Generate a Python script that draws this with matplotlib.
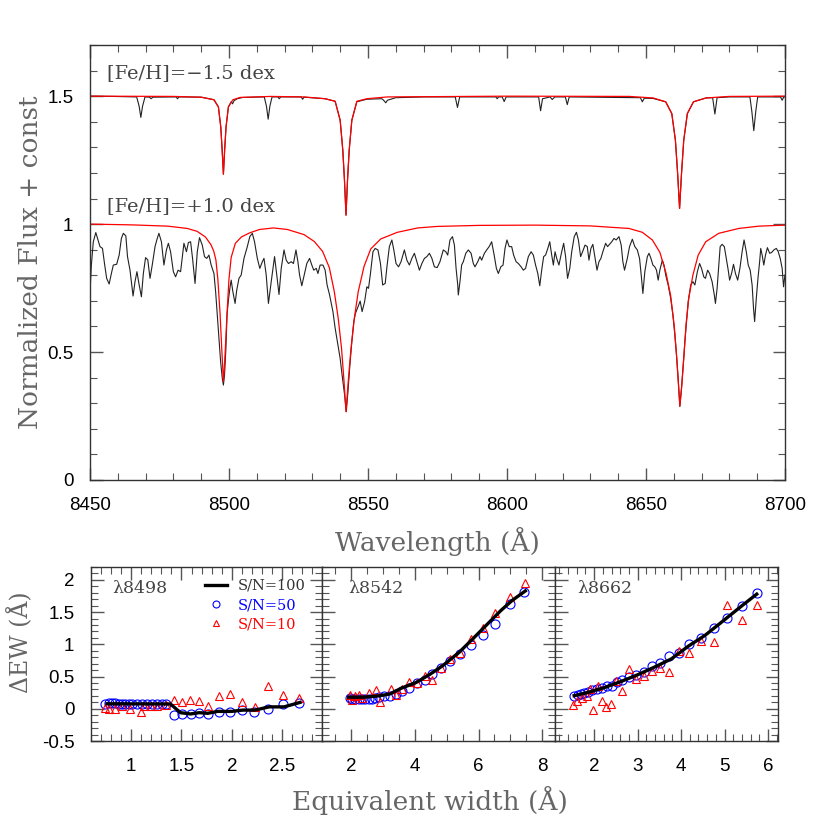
import numpy as np
import matplotlib.pyplot as plt
from matplotlib.lines import Line2D
from matplotlib.ticker import MultipleLocator, FormatStrFormatter

plt.rcParams['font.family'] = ['Liberation Sans', 'DejaVu Sans']
plt.rcParams['axes.unicode_minus'] = False

# ---------------- top panel: spectra (wavelength, flux) ----------------
poor_obs = [
    (8450.0, 1.500), (8458.0, 1.499), (8466.8, 1.497), (8467.7, 1.46), (8468.3, 1.417), (8468.9, 1.46),
    (8469.8, 1.497), (8471.4, 1.496), (8472.0, 1.490), (8472.6, 1.496), (8481.0, 1.497), (8481.5, 1.490),
    (8482.0, 1.497), (8490.0, 1.496), (8494.6, 1.486), (8496.2, 1.458), (8497.05, 1.38), (8497.55, 1.29),
    (8498.0, 1.195), (8498.45, 1.29), (8498.95, 1.38), (8499.8, 1.458), (8500.8, 1.478), (8501.3, 1.470),
    (8501.8, 1.482), (8503.0, 1.490), (8505.0, 1.495), (8512.7, 1.497), (8513.5, 1.46), (8514.1, 1.410),
    (8514.7, 1.46), (8515.5, 1.497), (8517.6, 1.497), (8518.1, 1.490), (8518.6, 1.497), (8526.0, 1.497),
    (8526.5, 1.488), (8527.0, 1.496), (8534.6, 1.490), (8538.2, 1.480), (8540.0, 1.406), (8540.95, 1.289),
    (8541.55, 1.172), (8542.1, 1.035), (8542.65, 1.172), (8543.25, 1.289), (8544.2, 1.406), (8546.0, 1.478),
    (8549.6, 1.488), (8555.0, 1.490), (8555.8, 1.482), (8556.4, 1.474), (8557.0, 1.484), (8560.0, 1.494),
    (8570.0, 1.497), (8581.4, 1.497), (8582.2, 1.456), (8583.0, 1.497), (8596.0, 1.497), (8596.5, 1.490),
    (8597.0, 1.497), (8598.3, 1.497), (8599.0, 1.479), (8599.7, 1.497), (8611.4, 1.497), (8612.1, 1.443),
    (8612.8, 1.490), (8615.5, 1.497), (8616.3, 1.487), (8617.2, 1.497), (8621.0, 1.497), (8621.7, 1.467),
    (8622.4, 1.497), (8648.0, 1.494), (8648.7, 1.478), (8649.4, 1.492), (8652.6, 1.491), (8657.1, 1.478),
    (8659.3, 1.432), (8660.6, 1.328), (8661.4, 1.198), (8662.1, 1.061), (8662.8, 1.198), (8663.6, 1.328),
    (8664.9, 1.432), (8667.1, 1.478), (8671.6, 1.493), (8674.0, 1.494), (8674.8, 1.430), (8675.6, 1.494),
    (8680.0, 1.497), (8687.4, 1.497), (8688.1, 1.44), (8688.8, 1.365), (8689.5, 1.44), (8690.2, 1.497),
    (8698.4, 1.497), (8699.0, 1.484), (8699.6, 1.497), (8700.0, 1.497),
]

poor_model = [
    (8450.0, 1.500), (8480.0, 1.499), (8490.0, 1.496), (8494.6, 1.486), (8496.2, 1.458), (8497.05, 1.38),
    (8497.55, 1.29), (8498.0, 1.195), (8498.45, 1.29), (8498.95, 1.38), (8499.8, 1.458), (8501.4, 1.486),
    (8504.0, 1.495), (8515.0, 1.499), (8527.0, 1.497), (8534.6, 1.490), (8538.2, 1.480), (8540.0, 1.406),
    (8540.95, 1.289), (8541.55, 1.172), (8542.1, 1.035), (8542.65, 1.172), (8543.25, 1.289), (8544.2, 1.406),
    (8546.0, 1.480), (8549.6, 1.490), (8557.0, 1.497), (8600.0, 1.500), (8644.0, 1.499), (8652.6, 1.493),
    (8657.1, 1.478), (8659.3, 1.432), (8660.6, 1.328), (8661.4, 1.198), (8662.1, 1.061), (8662.8, 1.198),
    (8663.6, 1.328), (8664.9, 1.432), (8667.1, 1.478), (8671.6, 1.493), (8680.0, 1.499), (8700.0, 1.500),
]

rich_obs = [
    (8450.0, 0.730), (8450.5, 0.840), (8451.2, 0.931), (8452.1, 0.967), (8452.9, 0.938), (8453.6, 0.912),
    (8454.5, 0.905), (8455.3, 0.840), (8456.0, 0.788), (8456.9, 0.766), (8457.7, 0.807), (8458.4, 0.840),
    (8459.6, 0.843), (8460.5, 0.879), (8461.3, 0.944), (8462.0, 0.964), (8462.9, 0.954), (8463.5, 0.873),
    (8464.4, 0.820), (8465.5, 0.719), (8466.2, 0.775), (8466.9, 0.814), (8467.6, 0.768), (8468.5, 0.716),
    (8469.2, 0.807), (8470.0, 0.869), (8470.8, 0.860), (8471.6, 0.788), (8472.4, 0.840), (8473.4, 0.912),
    (8474.2, 0.944), (8474.8, 0.964), (8475.7, 0.931), (8476.6, 0.840), (8477.5, 0.899), (8478.2, 0.925),
    (8479.0, 0.892), (8480.0, 0.814), (8480.8, 0.794), (8481.7, 0.820), (8482.6, 0.814), (8483.8, 0.925),
    (8484.7, 0.892), (8485.4, 0.928), (8486.2, 0.931), (8486.9, 0.866), (8487.8, 0.768), (8488.6, 0.892),
    (8489.4, 0.947), (8490.4, 0.918), (8491.2, 0.873), (8492.0, 0.866), (8492.8, 0.879), (8493.6, 0.840),
    (8494.6, 0.807), (8495.2, 0.736), (8495.8, 0.645), (8496.4, 0.553), (8497.0, 0.462), (8497.6, 0.397),
    (8498.0, 0.371), (8498.4, 0.410), (8498.9, 0.514), (8499.3, 0.645), (8499.8, 0.703), (8500.4, 0.755),
    (8500.8, 0.781), (8501.4, 0.736), (8502.2, 0.690), (8502.8, 0.742), (8503.6, 0.788), (8504.4, 0.801),
    (8505.4, 0.866), (8506.6, 0.912), (8507.5, 0.951), (8508.4, 0.964), (8509.2, 0.931), (8510.2, 0.866),
    (8511.1, 0.827), (8512.0, 0.853), (8512.6, 0.866), (8513.4, 0.801), (8514.2, 0.690), (8515.2, 0.775),
    (8516.4, 0.873), (8517.2, 0.801), (8518.0, 0.725), (8518.8, 0.827), (8519.8, 0.899), (8520.6, 0.859),
    (8521.4, 0.846), (8522.4, 0.853), (8523.2, 0.846), (8524.1, 0.899), (8524.8, 0.853), (8525.4, 0.801),
    (8526.2, 0.759), (8527.2, 0.807), (8528.0, 0.846), (8529.0, 0.866), (8529.8, 0.840), (8530.5, 0.820),
    (8531.4, 0.827), (8532.0, 0.807), (8532.8, 0.840), (8533.8, 0.840), (8534.6, 0.820), (8535.3, 0.762),
    (8536.2, 0.723), (8536.8, 0.690), (8537.4, 0.658), (8538.2, 0.593), (8539.2, 0.528), (8540.0, 0.475),
    (8540.7, 0.410), (8541.6, 0.332), (8542.2, 0.267), (8542.8, 0.345), (8543.5, 0.449), (8544.2, 0.540),
    (8544.9, 0.619), (8545.5, 0.651), (8546.4, 0.677), (8547.2, 0.699), (8547.9, 0.658), (8548.8, 0.697),
    (8549.6, 0.755), (8550.2, 0.749), (8550.9, 0.807), (8551.8, 0.892), (8552.6, 0.905), (8553.6, 0.899),
    (8554.5, 0.846), (8555.3, 0.762), (8556.2, 0.768), (8556.9, 0.840), (8557.7, 0.912), (8558.6, 0.938),
    (8559.3, 0.899), (8560.1, 0.846), (8561.0, 0.833), (8561.9, 0.853), (8563.1, 0.899), (8564.0, 0.859),
    (8564.9, 0.840), (8565.8, 0.866), (8566.7, 0.886), (8567.6, 0.853), (8568.5, 0.820), (8569.4, 0.846),
    (8570.3, 0.866), (8571.2, 0.873), (8572.1, 0.886), (8573.0, 0.866), (8573.9, 0.833), (8574.9, 0.830),
    (8575.9, 0.853), (8577.1, 0.899), (8578.0, 0.892), (8578.7, 0.879), (8579.5, 0.938), (8580.4, 0.951),
    (8581.1, 0.918), (8581.7, 0.827), (8582.3, 0.762), (8582.5, 0.723), (8583.1, 0.775), (8583.7, 0.840),
    (8584.3, 0.853), (8585.2, 0.886), (8586.1, 0.899), (8587.1, 0.886), (8587.9, 0.846), (8588.5, 0.833),
    (8589.5, 0.853), (8590.3, 0.873), (8590.9, 0.859), (8591.9, 0.886), (8592.7, 0.899), (8593.6, 0.912),
    (8594.5, 0.931), (8595.4, 0.879), (8596.2, 0.827), (8596.9, 0.807), (8597.8, 0.833), (8598.6, 0.840),
    (8599.3, 0.905), (8600.0, 0.938), (8600.8, 0.912), (8601.7, 0.912), (8602.4, 0.879), (8603.3, 0.853),
    (8604.1, 0.846), (8605.1, 0.833), (8605.9, 0.820), (8606.7, 0.827), (8607.7, 0.873), (8608.7, 0.892),
    (8609.5, 0.879), (8610.3, 0.840), (8611.1, 0.807), (8611.8, 0.759), (8612.5, 0.820), (8613.2, 0.873),
    (8613.9, 0.879), (8614.7, 0.905), (8615.4, 0.931), (8616.1, 0.879), (8616.7, 0.840), (8617.3, 0.892),
    (8617.9, 0.866), (8618.7, 0.840), (8619.7, 0.892), (8620.4, 0.925), (8621.1, 0.873), (8621.8, 0.788),
    (8622.6, 0.827), (8623.3, 0.892), (8624.2, 0.951), (8625.0, 0.968), (8625.7, 0.938), (8626.5, 0.873),
    (8627.2, 0.892), (8628.1, 0.918), (8628.9, 0.912), (8629.5, 0.859), (8630.2, 0.905), (8630.9, 0.921),
    (8631.7, 0.866), (8632.4, 0.820), (8633.1, 0.853), (8633.8, 0.866), (8634.5, 0.892), (8635.5, 0.925),
    (8636.2, 0.912), (8637.7, 0.931), (8638.5, 0.944), (8639.3, 0.938), (8640.3, 0.951), (8641.1, 0.918),
    (8641.7, 0.853), (8642.3, 0.820), (8643.3, 0.866), (8644.1, 0.912), (8645.1, 0.941), (8646.0, 0.912),
    (8646.9, 0.899), (8647.7, 0.866), (8648.3, 0.801), (8648.9, 0.729), (8649.6, 0.814), (8650.5, 0.873),
    (8651.1, 0.886), (8651.8, 0.866), (8652.5, 0.840), (8653.2, 0.833), (8653.8, 0.820), (8654.4, 0.781),
    (8655.0, 0.820), (8655.9, 0.859), (8656.5, 0.840), (8657.1, 0.801), (8658.0, 0.762), (8658.9, 0.710),
    (8659.7, 0.645), (8660.4, 0.567), (8661.0, 0.488), (8661.6, 0.397), (8662.2, 0.287), (8662.8, 0.358),
    (8663.4, 0.449), (8664.0, 0.540), (8664.6, 0.619), (8665.2, 0.697), (8666.1, 0.762), (8666.9, 0.775),
    (8667.6, 0.762), (8668.5, 0.814), (8669.3, 0.846), (8670.0, 0.827), (8670.8, 0.794), (8671.4, 0.788),
    (8672.2, 0.820), (8672.9, 0.807), (8673.8, 0.775), (8674.6, 0.723), (8675.0, 0.690), (8675.6, 0.749),
    (8676.2, 0.840), (8676.7, 0.912), (8677.4, 0.921), (8678.2, 0.912), (8678.9, 0.866), (8679.6, 0.820),
    (8680.1, 0.781), (8680.8, 0.807), (8681.5, 0.843), (8682.2, 0.807), (8683.0, 0.781), (8683.8, 0.827),
    (8684.6, 0.892), (8685.3, 0.938), (8686.1, 0.892), (8686.8, 0.840), (8687.5, 0.820), (8688.2, 0.762),
    (8688.7, 0.671), (8689.1, 0.619), (8689.7, 0.710), (8690.3, 0.788), (8690.9, 0.853), (8691.3, 0.905),
    (8691.8, 0.879), (8692.4, 0.840), (8693.0, 0.879), (8693.7, 0.908), (8694.5, 0.886), (8695.2, 0.889),
    (8696.0, 0.899), (8696.9, 0.905), (8697.6, 0.892), (8698.3, 0.866), (8699.0, 0.827), (8699.5, 0.755),
    (8700.0, 0.801),
]

rich_model = [
    (8450.0, 1.000), (8465.0, 0.997), (8478.0, 0.992), (8485.0, 0.983), (8488.5, 0.972), (8491.5, 0.950),
    (8493.5, 0.920), (8494.5, 0.895), (8495.3, 0.860), (8496.0, 0.785), (8496.8, 0.650), (8497.4, 0.514),
    (8497.8, 0.430), (8498.0, 0.385), (8498.3, 0.430), (8498.7, 0.514), (8499.3, 0.650), (8500.0, 0.785),
    (8500.8, 0.870), (8502.3, 0.925), (8504.5, 0.950), (8507.5, 0.966), (8511.0, 0.979), (8516.0, 0.985),
    (8521.0, 0.979), (8527.0, 0.959), (8530.7, 0.932), (8533.7, 0.893), (8536.1, 0.830), (8537.9, 0.736),
    (8539.3, 0.632), (8540.5, 0.514), (8541.4, 0.384), (8542.1, 0.267), (8542.9, 0.384), (8543.9, 0.514),
    (8545.1, 0.632), (8546.5, 0.736), (8548.6, 0.835), (8551.0, 0.903), (8554.6, 0.942), (8560.6, 0.968),
    (8567.9, 0.985), (8575.0, 0.991), (8590.0, 0.995), (8610.0, 0.996), (8630.0, 0.993), (8643.9, 0.983),
    (8648.7, 0.968), (8652.3, 0.938), (8655.0, 0.890), (8657.2, 0.810), (8658.9, 0.720), (8660.2, 0.600),
    (8661.0, 0.488), (8661.7, 0.371), (8662.2, 0.290), (8662.9, 0.371), (8663.7, 0.488), (8664.4, 0.605),
    (8665.4, 0.710), (8666.9, 0.801), (8668.8, 0.879), (8671.5, 0.931), (8676.2, 0.964), (8683.4, 0.983),
    (8690.6, 0.992), (8700.0, 0.996),
]

# ---------------- bottom panels: delta EW vs EW ----------------
line_names = ['λ8498', 'λ8542', 'λ8662']

ew_sn100 = [
    [0.76, 1.39, 1.49, 1.59, 1.675, 1.76, 1.86, 2.0, 2.11, 2.23, 2.37, 2.52, 2.68],
    [1.93, 2.39, 2.86, 3.22, 3.58, 4.05, 4.46, 4.88, 5.40, 5.81, 6.23, 6.69, 7.05, 7.47],
    [1.54, 1.86, 2.25, 2.63, 3.01, 3.40, 3.78, 4.17, 4.55, 4.94, 5.40, 5.74],
]
dew_sn100 = [
    [0.078, 0.075, -0.06, -0.08, -0.06, -0.07, -0.04, -0.04, -0.02, -0.02, 0.03, 0.03, 0.10],
    [0.18, 0.18, 0.20, 0.23, 0.32, 0.41, 0.53, 0.67, 0.88, 1.08, 1.29, 1.52, 1.68, 1.83],
    [0.203, 0.255, 0.333, 0.427, 0.531, 0.651, 0.776, 0.974, 1.14, 1.35, 1.60, 1.78],
]

ew_sn50 = [
    [0.744, 0.777, 0.81, 0.843, 0.877, 0.91, 0.943, 0.976, 1.01, 1.06, 1.11, 1.16, 1.21, 1.26,
     1.31, 1.35, 1.43, 1.51, 1.59, 1.67, 1.76, 1.87, 1.98, 2.10, 2.22, 2.36, 2.51, 2.67],
    [1.96, 2.03, 2.13, 2.24, 2.34, 2.44, 2.55, 2.65, 2.75, 2.89, 3.04, 3.22, 3.41, 3.61, 3.82,
     4.07, 4.31, 4.55, 4.81, 5.11, 5.42, 5.77, 6.14, 6.53, 6.98, 7.44],
    [1.546, 1.62, 1.69, 1.77, 1.85, 1.94, 2.06, 2.17, 2.29, 2.40, 2.52, 2.65, 2.81, 2.96, 3.15,
     3.34, 3.52, 3.72, 3.96, 4.19, 4.46, 4.75, 5.06, 5.40, 5.75],
]
dew_sn50 = [
    [0.078, 0.089, 0.083, 0.083, 0.078, 0.078, 0.078, 0.078, 0.078, 0.078, 0.078, 0.072, 0.067, 0.072,
     0.072, 0.078, -0.094, -0.078, -0.083, -0.068, -0.078, -0.052, -0.052, -0.026, -0.052, 0.0, 0.078, 0.089],
    [0.167, 0.156, 0.151, 0.156, 0.151, 0.151, 0.156, 0.156, 0.172, 0.177, 0.193, 0.193, 0.234, 0.281,
     0.318, 0.401, 0.453, 0.542, 0.635, 0.74, 0.854, 0.984, 1.141, 1.323, 1.625, 1.807],
    [0.203, 0.219, 0.234, 0.245, 0.266, 0.286, 0.307, 0.323, 0.349, 0.359, 0.417, 0.453, 0.495, 0.531,
     0.573, 0.661, 0.714, 0.818, 0.859, 1.01, 1.094, 1.26, 1.417, 1.599, 1.79],
]

ew_sn10 = [
    [0.744, 0.777, 0.843, 0.91, 0.993, 1.093, 1.126, 1.193, 1.26, 1.343, 1.43, 1.51, 1.587, 1.67,
     1.766, 1.87, 1.98, 2.10, 2.23, 2.36, 2.51, 2.67],
    [1.96, 2.03, 2.13, 2.24, 2.34, 2.55, 2.79, 2.91, 3.24, 3.41, 3.61, 3.82, 4.07, 4.31, 4.55, 4.83,
     5.11, 5.42, 5.78, 6.14, 6.53, 6.98, 7.47],
    [1.52, 1.61, 1.71, 1.83, 1.90, 1.98, 2.08, 2.17, 2.27, 2.38, 2.50, 2.65, 2.81, 2.96, 3.15, 3.32,
     3.52, 3.72, 3.96, 4.19, 4.46, 4.75, 5.06, 5.40, 5.75],
]
dew_sn10 = [
    [0.01, -0.005, -0.005, 0.036, -0.005, -0.057, 0.047, 0.047, 0.047, 0.052, 0.13, 0.099, 0.13, 0.115,
     0.047, 0.203, 0.234, 0.099, 0.026, 0.36, 0.219, 0.167],
    [0.219, 0.141, 0.193, 0.219, 0.167, 0.245, 0.286, 0.104, 0.307, 0.219, 0.307, 0.411, 0.401, 0.505,
     0.453, 0.635, 0.766, 0.87, 1.078, 1.25, 1.484, 1.729, 1.953],
    [0.052, 0.115, 0.167, 0.193, 0.307, -0.026, 0.359, 0.115, 0.026, 0.073, 0.427, 0.271, 0.62, 0.464,
     0.505, 0.583, 0.641, 0.578, 0.896, 0.859, 1.052, 1.036, 1.609, 1.385, 1.615],
]

panel_xlim = [(0.6, 2.9), (1.1, 8.4), (1.1, 6.23)]
panel_major = [0.5, 2, 1]
panel_minor = [0.1, 0.5, 0.2]

serif = dict(family='DejaVu Serif', color='#666666')
frame_col = '#333333'


def style_axis(ax):
    for s in ax.spines.values():
        s.set_color(frame_col)
        s.set_linewidth(1.0)
    ax.tick_params(which='both', direction='in', top=True, right=True, colors='#555555',
                   labelcolor='black', labelsize=13.5)
    ax.tick_params(which='major', length=9, width=1.0)
    ax.tick_params(which='minor', length=5, width=0.8)
    ax.tick_params(axis='both', pad=12)


fig = plt.figure(figsize=(8.3, 8.3), dpi=100)

ax = fig.add_axes([0.1084, 0.4217, 0.8373, 0.5241])
w, f = np.array(poor_obs).T
ax.plot(w, f, color='#222222', lw=0.8)
w, f = np.array(poor_model).T
ax.plot(w, f, color='red', lw=0.9)
w, f = np.array(rich_obs).T
ax.plot(w, f, color='#222222', lw=0.8, solid_joinstyle='round')
w, f = np.array(rich_model).T
ax.plot(w, f, color='red', lw=0.9)

ax.set_xlim(8450, 8700)
ax.set_ylim(0, 1.7)
ax.xaxis.set_major_locator(MultipleLocator(50))
ax.xaxis.set_minor_locator(MultipleLocator(10))
ax.yaxis.set_major_locator(MultipleLocator(0.5))
ax.yaxis.set_minor_locator(MultipleLocator(0.1))
ax.yaxis.set_major_formatter(FormatStrFormatter('%g'))
style_axis(ax)
ax.text(8456.3, 1.59, '[Fe/H]=−1.5 dex', fontsize=14, va='center', family='DejaVu Serif', color='#444444')
ax.text(8456.3, 1.07, '[Fe/H]=+1.0 dex', fontsize=14, va='center', family='DejaVu Serif', color='#444444')
ax.set_xlabel('Wavelength (Å)', fontsize=19, **serif)
ax.set_ylabel('Normalized Flux + const', fontsize=19, **serif)
ax.xaxis.set_label_coords(0.5, -0.108)
ax.yaxis.set_label_coords(-0.068, 0.5)

# bottom panels
lefts = [0.1096, 0.3883, 0.6687]
widths = [0.2787, 0.2804, 0.2687]
text_x = [0.09, 0.112, 0.10]
for i in range(3):
    bx = fig.add_axes([lefts[i], 0.1072, widths[i], 0.2096])
    bx.plot(ew_sn100[i], dew_sn100[i], color='black', lw=2.4, zorder=3)
    bx.plot(ew_sn50[i], dew_sn50[i], ls='none', marker='o', ms=6.5, mfc='none', mec='blue', mew=0.8)
    bx.plot(ew_sn10[i], dew_sn10[i], ls='none', marker='^', ms=5.5, mfc='none', mec='red', mew=0.8)
    bx.set_xlim(*panel_xlim[i])
    bx.set_ylim(-0.5, 2.2)
    bx.xaxis.set_major_locator(MultipleLocator(panel_major[i]))
    bx.xaxis.set_minor_locator(MultipleLocator(panel_minor[i]))
    bx.xaxis.set_major_formatter(FormatStrFormatter('%g'))
    bx.yaxis.set_major_locator(MultipleLocator(0.5))
    bx.yaxis.set_minor_locator(MultipleLocator(0.1))
    bx.yaxis.set_major_formatter(FormatStrFormatter('%g'))
    style_axis(bx)
    if i > 0:
        bx.tick_params(labelleft=False)
    bx.text(text_x[i], 0.879, line_names[i], transform=bx.transAxes,
            fontsize=12.5, va='center', family='DejaVu Serif', color='#444444')
    if i == 0:
        bx.set_ylabel('ΔEW (Å)', fontsize=17, **serif)
        bx.yaxis.set_label_coords(-0.25, 0.57)
        handles = [Line2D([], [], color='black', lw=2.4),
                   Line2D([], [], ls='none', marker='o', ms=5, mfc='none', mec='blue', mew=0.8),
                   Line2D([], [], ls='none', marker='^', ms=4.5, mfc='none', mec='red', mew=0.8)]
        leg = bx.legend(handles, ['S/N=100', 'S/N=50', 'S/N=10'], loc='upper right',
                        bbox_to_anchor=(0.955, 0.965), frameon=False, handlelength=1.5,
                        handletextpad=0.8, labelspacing=0.35, borderaxespad=0,
                        prop={'family': 'DejaVu Serif', 'size': 10.5})
        for t, c in zip(leg.get_texts(), ['#333333', 'blue', 'red']):
            t.set_color(c)

fig.text(0.518, 0.036, 'Equivalent width (Å)', fontsize=19, ha='center', va='center', **serif)

fig.savefig('out.png', dpi=100)
